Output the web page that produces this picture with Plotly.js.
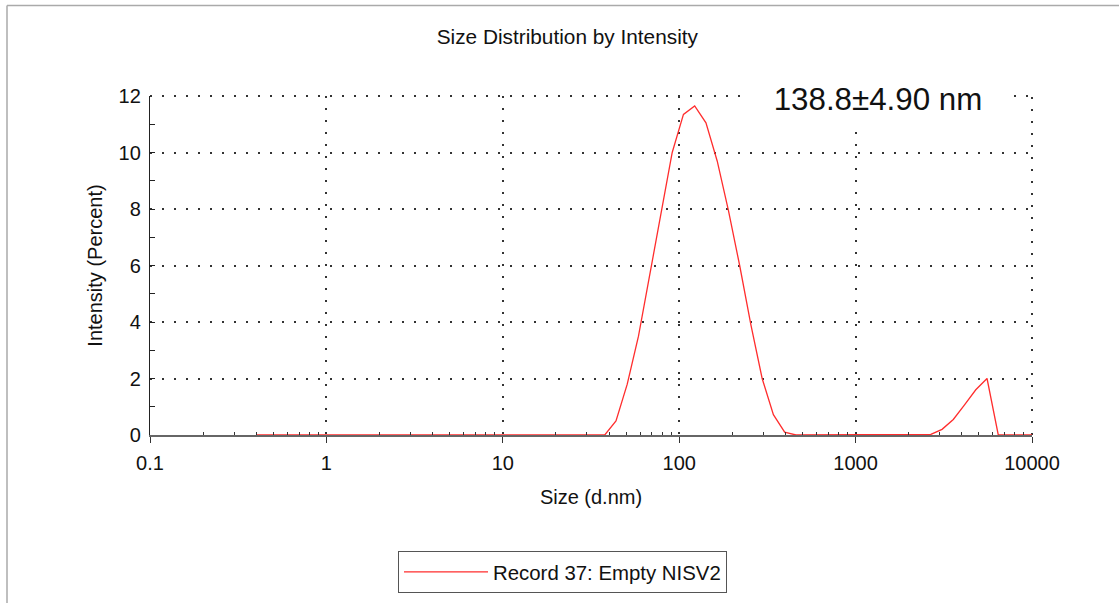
<!DOCTYPE html>
<html>
<head>
<meta charset="utf-8">
<script src="https://cdn.plot.ly/plotly-3.0.1.min.js"></script>
<style>html,body{margin:0;padding:0;background:#fff;}#chart{width:1119px;height:605px;}</style>
</head>
<body>
<div id="chart"></div>
<script>
// Size bins (d.nm)
const sizes = [0.4, 0.4632, 0.5365, 0.6213, 0.7195, 0.8332, 0.9649, 1.117, 1.294, 1.499,
  1.736, 2.010, 2.328, 2.696, 3.122, 3.615, 4.187, 4.849, 5.615, 6.503,
  7.531, 8.721, 10.10, 11.70, 13.54, 15.69, 18.17, 21.04, 24.36, 28.21,
  32.67, 37.84, 43.82, 50.75, 58.77, 68.06, 78.82, 91.28, 105.7, 122.4,
  141.8, 164.2, 190.1, 220.2, 255.0, 295.3, 342.0, 396.1, 458.7, 531.2,
  615.1, 712.4, 825.0, 955.4, 1106, 1281, 1484, 1718, 1990, 2305,
  2669, 3091, 3580, 4145, 4801, 5560, 6439, 7456, 8635, 10000];
// Intensity (Percent)
const intensity = [0, 0, 0, 0, 0, 0, 0, 0, 0, 0,
  0, 0, 0, 0, 0, 0, 0, 0, 0, 0,
  0, 0, 0, 0, 0, 0, 0, 0, 0, 0,
  0, 0, 0.5, 1.8, 3.5, 5.7, 7.8, 10.0, 11.35, 11.65,
  11.05, 9.7, 7.95, 6.0, 3.9, 2.0, 0.72, 0.1, 0, 0,
  0, 0, 0, 0, 0, 0, 0, 0, 0, 0,
  0.02, 0.2, 0.55, 1.07, 1.6, 2.0, 0, 0, 0, 0];
const seriesName = "Record 37: Empty NISV2";
const chartTitle = "Size Distribution by Intensity";
const xTitle = "Size (d.nm)";
const yTitle = "Intensity (Percent)";
const resultText = "138.8±4.90 nm";
const xMajorTicks = [0.1, 1, 10, 100, 1000, 10000];
const xMajorLabels = ["0.1", "1", "10", "100", "1000", "10000"];
const xMinorTicks = [0.2,0.3,0.4,0.5,0.6,0.7,0.8,0.9, 2,3,4,5,6,7,8,9, 20,30,40,50,60,70,80,90,
  200,300,400,500,600,700,800,900, 2000,3000,4000,5000,6000,7000,8000,9000];

const FONT = "Liberation Sans, Arial, Helvetica, sans-serif";
const gridDash = "2px,10px";
const gridColor = "#333";
const PL = 150, PR = 1032, PT = 96, PB = 437;
const px2x = p => (p - PL) / (PR - PL);
const px2y = p => (PB - p) / (PB - PT);

const trace = {
  x: sizes, y: intensity, type: "scatter", mode: "lines", name: seriesName,
  line: {color: "rgb(255,45,45)", width: 1.3}
};

const layout = {
  width: 1119, height: 605,
  margin: {l: PL, r: 1119 - PR, t: PT, b: 605 - PB},
  paper_bgcolor: "#fff", plot_bgcolor: "#fff",
  font: {family: FONT, size: 20, color: "#111"},
  showlegend: true,
  title: {text: chartTitle, font: {family: FONT, size: 20.8, color: "#111"},
    xref: "container", x: 0.507, xanchor: "center", yref: "container", y: 1 - 37/605, yanchor: "middle"},
  xaxis: {
    type: "log", range: [-1, 4], tickmode: "array", tickvals: xMajorTicks, ticktext: xMajorLabels,
    ticks: "outside", ticklen: 6, tickwidth: 1, tickcolor: "#333",
    showline: true, linecolor: "#666", linewidth: 1.5,
    showgrid: true, gridcolor: gridColor, gridwidth: 2, griddash: gridDash,
    zeroline: false, automargin: false, ticklabelstandoff: 3,
    minor: {tickmode: "array", tickvals: xMinorTicks, ticks: "inside", ticklen: 3.5, tickwidth: 1, tickcolor: "#333", showgrid: false},
    tickfont: {family: FONT, size: 20, color: "#111"},
    title: {text: xTitle, font: {family: FONT, size: 20, color: "#111"}, standoff: 17},
    fixedrange: true
  },
  xaxis2: {
    type: "log", range: [-1, 4], overlaying: "x", anchor: "y", side: "bottom",
    tickmode: "array", tickvals: xMinorTicks, ticks: "outside", ticklen: 4, tickwidth: 1, tickcolor: "#333",
    showticklabels: false, showgrid: false, showline: false, zeroline: false, fixedrange: true
  },
  yaxis: {
    range: [0, 12], dtick: 2, tick0: 0,
    ticks: "inside", ticklen: 4.5, tickwidth: 1, tickcolor: "#222",
    showline: true, linecolor: "#222", linewidth: 1.2,
    showgrid: true, gridcolor: gridColor, gridwidth: 2, griddash: gridDash,
    zeroline: false, automargin: false, ticklabelstandoff: 4,
    minor: {dtick: 1, tick0: 0, ticks: "inside", ticklen: 4.5, tickwidth: 1, tickcolor: "#222", showgrid: false},
    tickfont: {family: FONT, size: 20, color: "#111"},
    title: {text: yTitle, font: {family: FONT, size: 20, color: "#111"}, standoff: 10},
    fixedrange: true
  },
  yaxis2: {
    range: [0, 12], overlaying: "y", anchor: "x", side: "left", dtick: 2, tick0: 0,
    ticks: "outside", ticklen: 4, tickwidth: 1, tickcolor: "#222",
    showticklabels: false, showgrid: false, showline: false, zeroline: false, fixedrange: true
  },
  legend: {
    xref: "paper", yref: "paper", x: px2x(398), xanchor: "left", y: px2y(575), yanchor: "middle",
    bordercolor: "#555", borderwidth: 1, bgcolor: "#fff",
    font: {family: FONT, size: 20.4, color: "#111"}, itemwidth: 84
  },
  annotations: [{
    text: resultText, xref: "paper", yref: "paper",
    x: px2x(743), xanchor: "left", y: px2y(99.5), yanchor: "middle",
    width: 268, height: 50, align: "center", valign: "middle",
    bgcolor: "#fff", borderpad: 0,
    showarrow: false, font: {family: FONT, size: 31.3, color: "#111"}
  }],
  shapes: [
    // figure frame (left and top edges)
    {type: "line", xref: "paper", yref: "paper", x0: px2x(7), x1: px2x(7), y0: px2y(606), y1: px2y(5),
     line: {color: "#aaa", width: 1.5}},
    {type: "line", xref: "paper", yref: "paper", x0: px2x(7), x1: px2x(1120), y0: px2y(5), y1: px2y(5),
     line: {color: "#aaa", width: 1.5}},
    // dotted top and right plot edges (grid at range ends)
    {type: "line", xref: "paper", yref: "paper", x0: 0, x1: 1, y0: 1, y1: 1,
     line: {color: gridColor, width: 2, dash: gridDash}, layer: "below"},
    {type: "line", xref: "paper", yref: "paper", x0: 1, x1: 1, y0: 0, y1: 1,
     line: {color: gridColor, width: 2, dash: gridDash}, layer: "below"}
  ]
};

Plotly.newPlot("chart", [trace], layout, {displayModeBar: false, staticPlot: true});
</script>
</body>
</html>
